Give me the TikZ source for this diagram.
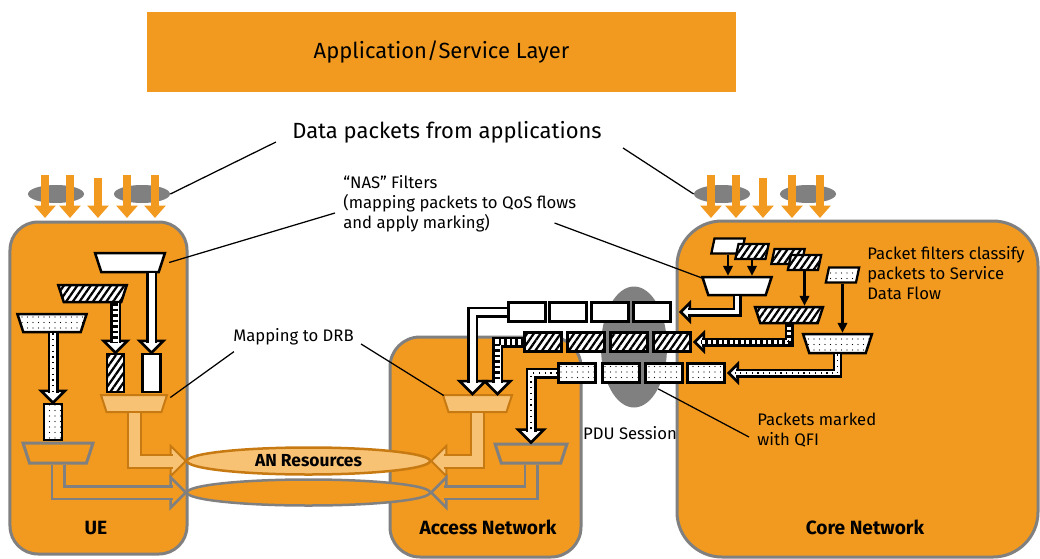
\documentclass[tikz,border=0pt]{standalone}
\usepackage{fontspec}
\setmainfont{Fira Sans}
\usepackage{tikz}
\usetikzlibrary{arrows.meta, positioning, shapes.geometric, calc, patterns.meta}
\definecolor{orng}{RGB}{242,154,31}
\definecolor{lightorng}{RGB}{248,194,117}
\definecolor{darkorng}{RGB}{199,121,18}
\definecolor{boxgrey}{RGB}{128,128,128}

\begin{document}
\begin{tikzpicture}[
  x=0.2mm, y=-0.2mm,
  font=\fontsize{9.5}{11.4}\selectfont,
  netbox/.style={draw=boxgrey, line width=0.6mm, fill=orng, inner sep=0pt,
                 rounded corners=#1},
  lbl/.style={inner sep=0pt, align=left},
  boxlbl/.style={inner sep=0pt, font=\fontsize{10.9}{12}\selectfont\bfseries},
  bigtxt/.style={inner sep=0pt, font=\fontsize{12.5}{14}\selectfont},
  blob/.style={ellipse, fill=boxgrey, inner sep=0pt,
               minimum width=11.2mm, minimum height=3.6mm},
  pktarr/.style={draw=orng, line width=1.6mm, -{Triangle[length=2.5mm,width=4.2mm]}},
  thinarr/.style={draw=black, line width=0.45mm, -{Triangle[length=2mm,width=1.9mm]}},
  trap/.style={trapezium, shape border rotate=180, trapezium left angle=72,
               trapezium right angle=72, inner sep=0pt, text width=11.5mm,
               text height=3.6mm, text depth=0pt, draw=black, line width=0.5mm},
  para/.style={trapezium, trapezium left angle=78, trapezium right angle=102,
               inner sep=0pt, text width=5.4mm, text height=3mm, text depth=0pt,
               draw=black, line width=0.45mm},
  pkt/.style={draw=black, line width=0.5mm, inner sep=0pt,
              minimum width=7.4mm, minimum height=3.8mm},
  wfill/.style={fill=white},
  hfill/.style={preaction={fill=white},
                pattern={Lines[angle=55,distance=1.1mm,line width=0.45mm]}},
  dfill/.style={preaction={fill=white},
                pattern={Dots[distance=1.1mm,radius=0.14mm]}},
  drbmap/.style={trap, draw=darkorng, line width=0.4mm, fill=lightorng},
  anmap/.style={trap, draw=boxgrey, line width=0.6mm, fill=orng},
  res/.style={ellipse, inner sep=0pt, minimum width=48.6mm, line width=0.5mm},
  tubeW/.style={draw=black, double=white, double distance=1.2mm, line width=0.5mm},
  tubeS/.style={draw=black, double=white, double distance=0.9mm, line width=0.45mm},
  tubeL/.style={draw=darkorng, double=lightorng, double distance=2.2mm, line width=0.4mm},
  tubeG/.style={draw=boxgrey, double=orng, double distance=2.0mm, line width=0.5mm},
  hatchin/.style={draw=black, line width=1.1mm, dash pattern=on 0.5mm off 0.6mm},
  dotin/.style={draw=black, line width=0.25mm, dash pattern=on 0.25mm off 0.9mm},
  headW/.style={draw=black, fill=white, line width=0.5mm},
  headL/.style={draw=darkorng, fill=lightorng, line width=0.4mm},
  headG/.style={draw=boxgrey, fill=orng, line width=0.5mm},
  bhead/.pic={\path[pic actions] (0,0) -- (-1,-1) -- (1,-1) -- cycle;},
  callout/.style={draw=black, line width=0.25mm}
]
  \useasboundingbox (0,0) rectangle (1040,559);

  % the three domains
  \node[netbox=5.6mm, minimum width=35.4mm, minimum height=66.4mm] (ue) at (98.5,388) {};
  \node[netbox=6mm, minimum width=38.2mm, minimum height=44mm] (an) at (485.5,447) {};
  \node[netbox=9mm, minimum width=72.2mm, minimum height=67.2mm] (cn) at (857.5,389) {};
  \node[boxlbl] (ueLbl) at (96,528) {UE};
  \node[boxlbl] (anLbl) at (488,527) {Access Network};
  \node[boxlbl] (cnLbl) at (865,527) {Core Network};

  % application layer and incoming packets
  \node[bigtxt, fill=orng, minimum width=117.8mm, minimum height=16mm] (layer)
    at (441.5,52) {Application/Service Layer};
  \node[bigtxt] (dataLbl) at (447,132) {Data packets from applications};
  \node[blob] (ueE1) at (56,194) {};
  \node[blob] (ueE2) at (142,194) {};
  \node[blob] (cnE1) at (722,194) {};
  \node[blob] (cnE2) at (808,194) {};
  \foreach \x in {45,70,127,155,711,736,792,820}
    \draw[pktarr] (\x,175) -- (\x,218);
  \foreach \x in {98,763}
    \draw[pktarr] (\x,178) -- (\x,218);
  \draw[callout] ($(dataLbl.west)+(-16,10)$) -- (ueE2.east);
  \draw[callout] ($(dataLbl.east)+(21,16)$) -- (cnE1.west);

  % PDU session
  \node[ellipse, fill=boxgrey, minimum width=13.2mm, minimum height=24.2mm] (pdu) at (634,347) {};
  \node[lbl] (pduLbl) at (630,433) {PDU Session};

  % UE side
  \node[trap, wfill, text height=3.8mm] (ueNasW) at (130,262.5) {};
  \node[trap, hfill, text height=3.4mm] (ueNasH) at (92.5,293.5) {};
  \node[trap, dfill] (ueNasD) at (52,323) {};
  \node[pkt, hfill, minimum width=3.4mm, minimum height=7.6mm] (ueH) at (115.5,373) {};
  \node[pkt, wfill, minimum width=3.6mm, minimum height=7.6mm] (ueW) at (151.5,373) {};
  \node[pkt, dfill, minimum width=3.6mm, minimum height=7.2mm] (ueD) at (53,422) {};
  \node[drbmap, text width=11mm, text height=3.4mm] (ueDrb) at (134,403.5) {};
  \node[anmap, text width=11.4mm, text height=4mm] (ueGr) at (58,453) {};

  % radio resources
  \node[res, draw=darkorng, fill=lightorng, minimum height=5.4mm,
        font=\fontsize{9.9}{11}\selectfont\bfseries] (anRes) at (308.5,461) {AN Resources};
  \node[res, draw=boxgrey, fill=orng, minimum height=5.2mm] (anRes2) at (308.5,492.5) {};

  % access network side
  \node[drbmap, text width=11.6mm, text height=3.4mm] (anDrb) at (477.5,403.5) {};
  \node[anmap, text width=11.9mm, text height=3.8mm] (anGr) at (531,453.5) {};

  % QoS flows inside the PDU session
  \foreach \x [count=\i] in {527,568,610,652}
    \node[pkt, wfill] (w\i) at (\x,312) {};
  \foreach \x [count=\i] in {543,586,629,672}
    \node[pkt, hfill] (h\i) at (\x,342) {};
  \foreach \x [count=\i] in {577,621,664,706}
    \node[pkt, dfill] (d\i) at (\x,373) {};

  % core network side
  \node[trap, wfill] (cnNasW) at (737,286) {};
  \node[trap, hfill, text height=3.2mm] (cnNasH) at (789,315) {};
  \node[trap, dfill, text width=11.3mm, text height=3.8mm] (cnNasD) at (837.5,343.5) {};
  \node[para, wfill] (pW) at (728,246) {};
  \node[para, hfill] (pH) at (752,251.5) {};
  \node[para, hfill] (pH2) at (788,256.5) {};
  \node[para, hfill] (pH3) at (804.5,262.5) {};
  \node[para, dfill] (pD) at (842.5,275) {};
  \draw[thinarr] (pW.south) -- (pW.south |- cnNasW.north);
  \draw[thinarr] (pH.south) -- (pH.south |- cnNasW.north);
  \draw[thinarr] (pH3.south) -- (pH3.south |- cnNasH.north);
  \draw[thinarr] (pD.south) -- (pD.south |- cnNasD.north);

  % labels
  \node[lbl, anchor=west] (nasLbl) at (343,204)
    {“NAS” Filters\\(mapping packets to QoS flows\\and apply marking)};
  \node[lbl] (drbLbl) at (293.5,337) {Mapping to DRB};
  \node[lbl, anchor=west] (pfLbl) at (867,273)
    {Packet filters classify\\packets to Service\\Data Flow};
  \node[lbl, anchor=west] (qfiLbl) at (757,430) {Packets marked\\with QFI};
  \draw[callout] ($(nasLbl.west)+(-8,9)$) -- ($(ueNasW.east)+(6,0)$);
  \draw[callout] ($(nasLbl.east)+(-22,19)$) -- ($(cnNasW.west)+(-2,-8)$);
  \draw[callout] ($(drbLbl.south west)+(1,6)$) -- ($(ueDrb.east)+(5,-6)$);
  \draw[callout] ($(drbLbl.east)+(7,7)$) -- ($(anDrb.west)+(-1,-8)$);
  \draw[callout] (pdu.-60) -- ($(qfiLbl.west)+(-8,7)$);

  % UE: filters to DRB mapping
  \pic[headW, scale=12] at (ueW.north) {bhead};
  \draw[tubeW] (ueW.north |- ueNasW.south) -- ($(ueW.north)+(0,-10)$);
  \pic[headW, scale=12] at (ueH.north) {bhead};
  \draw[tubeW] (ueH.north |- ueNasH.south) -- ($(ueH.north)+(0,-10)$);
  \draw[hatchin] (ueH.north |- ueNasH.south) -- ($(ueH.north)+(0,-11)$);
  \pic[headW, scale=12] at (ueD.north) {bhead};
  \draw[tubeW] (ueD.north |- ueNasD.south) -- ($(ueD.north)+(0,-10)$);
  \draw[dotin] (ueD.north |- ueNasD.south) -- ($(ueD.north)+(0,-11)$);

  % UE and AN onto the resources
  \pic[headL, scale=15, rotate=90] at (anRes.west) {bhead};
  \draw[tubeL] (ueDrb.south) |- ($(anRes.west)+(-13,0)$);
  \pic[headG, scale=15, rotate=90] at (anRes2.west) {bhead};
  \draw[tubeG] (ueGr.south) |- ($(anRes2.west)+(-13,0)$);
  \pic[headL, scale=15, rotate=-90] at (anRes.east) {bhead};
  \draw[tubeL] (anDrb.south) |- ($(anRes.east)+(13,0)$);
  \pic[headG, scale=15, rotate=-90] at (anRes2.east) {bhead};
  \draw[tubeG] (anGr.south) |- ($(anRes2.east)+(13,0)$);

  % flows into the access network
  \pic[headW, scale=13] at ([xshift=-1mm]anDrb.north) {bhead};
  \draw[tubeW] (w1.west) -| ($([xshift=-1mm]anDrb.north)+(0,-11)$);
  \pic[headW, scale=13] at ([xshift=4mm]anDrb.north) {bhead};
  \draw[tubeW] (h1.west) -| ($([xshift=4mm]anDrb.north)+(0,-11)$);
  \draw[hatchin] (h1.west) -| ($([xshift=4mm]anDrb.north)+(0,-12)$);
  \pic[headW, scale=13] at (anGr.north) {bhead};
  \draw[tubeW] (d1.west) -| ($(anGr.north)+(0,-11)$);
  \draw[dotin] (d1.west) -| ($(anGr.north)+(0,-12)$);

  % core filters into the flows
  \pic[headW, scale=9, rotate=-90] at ($(w4.east)+(9,0)$) {bhead};
  \draw[tubeS] (cnNasW.south) |- ($(w4.east)+(16,0)$);
  \pic[headW, scale=9, rotate=-90] at ($(h4.east)+(3,0)$) {bhead};
  \draw[tubeS] (cnNasH.south) |- ($(h4.east)+(10,0)$);
  \draw[hatchin, line width=0.8mm] (cnNasH.south) |- ($(h4.east)+(9,0)$);
  \pic[headW, scale=9, rotate=-90] at ($(d4.east)+(3,0)$) {bhead};
  \draw[tubeS] (cnNasD.south) |- ($(d4.east)+(10,0)$);
  \draw[dotin] (cnNasD.south) |- ($(d4.east)+(9,0)$);
\end{tikzpicture}
\end{document}
